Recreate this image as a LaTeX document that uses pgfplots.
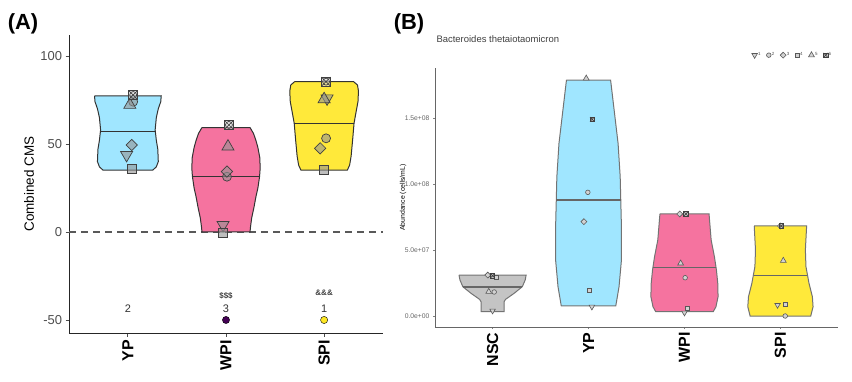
\documentclass[border=0pt]{standalone}
\usepackage{pgfplots}
\pgfplotsset{compat=1.18}
\usepackage{fontspec}
\setmainfont{Liberation Sans}
\definecolor{cyp}{HTML}{A0E6FF}
\definecolor{cwpi}{HTML}{F5739F}
\definecolor{cspi}{HTML}{FFE93A}
\definecolor{cnsc}{HTML}{C4C4C4}
\definecolor{vpurple}{HTML}{440154}
\definecolor{vyellow}{HTML}{FDE725}
\definecolor{tickgray}{HTML}{4D4D4D}
\newcommand{\fs}[1]{\fontsize{#1}{#1}\selectfont}
\pgfdeclareplotmark{sqx}{%
  \pgfpathrectangle{\pgfpoint{-\pgfplotmarksize}{-\pgfplotmarksize}}{\pgfpoint{2\pgfplotmarksize}{2\pgfplotmarksize}}%
  \pgfusepathqfillstroke
  \pgfpathmoveto{\pgfpoint{-\pgfplotmarksize}{-\pgfplotmarksize}}\pgfpathlineto{\pgfpoint{\pgfplotmarksize}{\pgfplotmarksize}}%
  \pgfpathmoveto{\pgfpoint{-\pgfplotmarksize}{\pgfplotmarksize}}\pgfpathlineto{\pgfpoint{\pgfplotmarksize}{-\pgfplotmarksize}}%
  \pgfusepathqstroke}
\pgfplotsset{
  ptA/.style={only marks, mark options={fill=gray!85, fill opacity=0.6, draw=black!75, line width=0.7bp, #1}},
  ptA/.default={},
  ptB/.style={only marks, mark options={fill=gray!35, draw=black!65, line width=0.6bp, #1},
    legend image code/.code={\draw[##1] plot coordinates {(2.5bp,0bp)};}},
  ptB/.default={},
}
\begin{document}
\begin{tikzpicture}
\useasboundingbox (0bp,0bp) rectangle (852bp,382bp);
% ---------------- Panel A ----------------
\begin{axis}[
  at={(69bp,49bp)}, anchor=south west, scale only axis, width=314bp, height=298bp,
  xmin=0.4, xmax=3.6, ymin=-57.4, ymax=111.9,
  axis lines=left, axis line style={-, line width=0.9bp, black!85},
  xtick={1,2,3}, xticklabels={YP,WPI,SPI},
  ytick={-50,0,50,100}, yticklabels={-50,0,50,100},
  tick align=outside, major tick length=3.5bp, tick style={line width=0.8bp, black!70},
  xticklabel style={rotate=90, anchor=east, font=\bfseries\fs{16}, black},
  yticklabel style={font=\fs{13}, text=tickgray},
  ylabel={Combined CMS}, ylabel style={at={(axis description cs:-0.127,0.5)}, anchor=center, font=\fs{13.5}},
  clip=false,
]
\addplot[forget plot, dashed, dash pattern=on 7bp off 5bp, black!65, line width=1.1bp] coordinates {(0.4,0) (3.6,0)};
% violins
\addplot[forget plot, fill=cyp, draw=black!80, line width=1bp] coordinates {
 (0.66,77.3) (0.665,74) (0.69,70) (0.71,65) (0.722,58) (0.71,52) (0.695,47) (0.69,40) (0.71,37) (0.745,35.2)
 (1.255,35.2) (1.29,37) (1.31,40) (1.305,47) (1.29,52) (1.278,58) (1.29,65) (1.31,70) (1.335,74) (1.34,77.3) (0.66,77.3)};
\addplot[forget plot, fill=cwpi, draw=black!80, line width=1bp] coordinates {
 (1.755,59.3) (1.72,56) (1.695,52) (1.675,48) (1.655,42) (1.652,36) (1.658,31.4) (1.675,25) (1.695,20) (1.715,14) (1.738,8) (1.75,3) (1.755,0)
 (2.245,0) (2.25,3) (2.262,8) (2.285,14) (2.305,20) (2.325,25) (2.342,31.4) (2.348,36) (2.345,42) (2.325,48) (2.305,52) (2.28,56) (2.245,59.3) (1.755,59.3)};
\addplot[forget plot, fill=cspi, draw=black!80, line width=1bp] coordinates {
 (2.70,85.4) (2.66,83.5) (2.65,80) (2.655,74) (2.675,68) (2.695,61.8) (2.71,52) (2.725,43) (2.74,38) (2.763,35.2)
 (3.237,35.2) (3.26,38) (3.275,43) (3.29,52) (3.305,61.8) (3.325,68) (3.345,74) (3.35,80) (3.34,83.5) (3.30,85.4) (2.70,85.4)};
% medians
\addplot[forget plot, black!80, line width=1bp] coordinates {(0.721,57) (1.279,57)};
\addplot[forget plot, black!80, line width=1bp] coordinates {(1.658,31.4) (2.342,31.4)};
\addplot[forget plot, black!80, line width=1bp] coordinates {(2.695,61.4) (3.305,61.4)};
% points
\addplot[ptA={rotate=180}, mark=triangle*, mark size=7bp] coordinates {(0.987,43.75) (1.97,4) (3.03,75.9)};
\addplot[ptA, mark=*, mark size=4.5bp] coordinates {(1.054,74) (2.01,31.4) (3.02,53.2)};
\addplot[ptA={rotate=45}, mark=square*, mark size=4bp] coordinates {(1.04,49.4) (2.01,34.3) (2.96,47.5)};
\addplot[ptA, mark=square*, mark size=4.5bp] coordinates {(1.04,35.6) (1.97,-0.4) (3.0,35.2)};
\addplot[ptA, mark=triangle*, mark size=7bp] coordinates {(1.02,72.2) (2.02,48.5) (3.0,75.4)};
\addplot[ptA={fill=gray!30}, mark=sqx, mark size=4.5bp] coordinates {(1.054,77.8) (2.03,60.8) (3.02,85.4)};
\addplot[ptA={fill=none}, mark=o, mark size=3.5bp] coordinates {(1.054,77.8) (2.03,60.8) (3.02,85.4)};
% annotations
\addplot[only marks, mark=none, nodes near coords, point meta=explicit symbolic,
  nodes near coords style={anchor=center, font=\fs{11}, text=black!80}] coordinates {(1,-43.75)[2] (2,-43.75)[3] (3,-43.75)[1]};
\addplot[only marks, mark=none, nodes near coords, point meta=explicit symbolic,
  nodes near coords style={anchor=center, font=\bfseries\fs{8}, text=black!75}] coordinates {(2,-36.5)[\$\$\$] (3,-34.7)[\&\&\&]};
\addplot[only marks, mark=*, mark size=3.6bp, draw=none, fill=vpurple] coordinates {(2,-50)};
\addplot[only marks, mark=*, mark size=3.6bp, draw=none, fill=vyellow] coordinates {(3,-50)};
\end{axis}
% ---------------- Panel B ----------------
\begin{axis}[
  at={(435bp,55bp)}, anchor=south west, scale only axis, width=403bp, height=259bp,
  xmin=0.4, xmax=4.6, ymin=-0.833e7, ymax=18.79e7,
  axis lines=left, axis line style={-, line width=0.8bp, black!60},
  xtick={1,2,3,4}, xticklabels={NSC,YP,WPI,SPI},
  ytick={0,5e7,1e8,1.5e8}, yticklabels={0.0e+00,5.0e+07,1.0e+08,1.5e+08}, scaled y ticks=false,
  tick align=outside, major tick length=2bp, tick style={black!50, line width=0.5bp},
  yticklabel style={font=\fs{6.8}, text=gray!80!black},
  xticklabel style={rotate=90, anchor=east, font=\bfseries\fs{16}, black},
  ylabel={Abundance (cells/mL)}, ylabel style={at={(axis description cs:-0.079,0.5)}, anchor=center, font=\fs{6.9}},
  legend columns=6,
  legend style={draw=none, fill=none, font=\fs{4.5}, text=tickgray, at={(0.993,1.05)}, anchor=east,
    nodes={inner sep=0.8bp}, /tikz/every even column/.append style={column sep=5bp}},
  clip=false,
]
\addplot[forget plot, fill=cnsc, draw=black!55, line width=1bp] coordinates {
 (0.65,3.1e7) (0.66,2.73e7) (0.69,2.22e7) (0.775,1.72e7) (0.865,1.26e7) (0.88,1.08e7) (0.88,0.33e7)
 (1.12,0.33e7) (1.12,1.08e7) (1.135,1.26e7) (1.225,1.72e7) (1.31,2.22e7) (1.34,2.73e7) (1.35,3.1e7) (0.65,3.1e7)};
\addplot[forget plot, fill=cyp, draw=black!55, line width=1bp] coordinates {
 (1.77,17.88e7) (1.733,15.6e7) (1.692,13.08e7) (1.67,10.55e7) (1.664,8.79e7) (1.657,6.77e7) (1.657,4.24e7) (1.682,2.22e7) (1.716,0.76e7)
 (2.284,0.76e7) (2.318,2.22e7) (2.343,4.24e7) (2.343,6.77e7) (2.336,8.79e7) (2.33,10.55e7) (2.308,13.08e7) (2.267,15.6e7) (2.23,17.88e7) (1.77,17.88e7)};
\addplot[forget plot, fill=cwpi, draw=black!55, line width=1bp] coordinates {
 (2.744,7.73e7) (2.722,5.76e7) (2.688,4.49e7) (2.667,3.48e7) (2.653,2.47e7) (2.65,1.46e7) (2.672,0.70e7) (2.70,0.33e7)
 (3.30,0.33e7) (3.328,0.70e7) (3.35,1.46e7) (3.347,2.47e7) (3.333,3.48e7) (3.312,4.49e7) (3.278,5.76e7) (3.256,7.73e7) (2.744,7.73e7)};
\addplot[forget plot, fill=cspi, draw=black!55, line width=1bp] coordinates {
 (3.727,6.82e7) (3.74,5.0e7) (3.734,3.74e7) (3.702,2.47e7) (3.667,1.46e7) (3.66,0.70e7) (3.684,0)
 (4.316,0) (4.34,0.70e7) (4.333,1.46e7) (4.298,2.47e7) (4.266,3.74e7) (4.26,5.0e7) (4.273,6.82e7) (3.727,6.82e7)};
\addplot[forget plot, black!60, line width=1.1bp] coordinates {(0.69,2.2e7) (1.31,2.2e7)};
\addplot[forget plot, black!60, line width=1.1bp] coordinates {(1.664,8.79e7) (2.336,8.79e7)};
\addplot[forget plot, black!60, line width=1.1bp] coordinates {(2.67,3.66e7) (3.33,3.66e7)};
\addplot[forget plot, black!60, line width=1.1bp] coordinates {(3.72,3.05e7) (4.28,3.05e7)};
% points
\addplot[ptB={rotate=180}, mark=triangle*, mark size=3.2bp] coordinates {(1.0,0.40e7) (2.035,0.70e7) (3.0,0.25e7) (3.97,0.83e7)};
\addlegendentry{1}
\addplot[ptB, mark=*, mark size=2.3bp] coordinates {(1.017,1.82e7) (1.993,9.37e7) (3.007,2.9e7) (4.05,0.0)};
\addlegendentry{2}
\addplot[ptB={rotate=45}, mark=square*, mark size=2.1bp] coordinates {(0.95,3.1e7) (1.952,7.15e7) (2.95,7.73e7) (4.0,6.82e7)};
\addlegendentry{3}
\addplot[ptB, mark=square*, mark size=2.1bp] coordinates {(1.035,2.93e7) (2.01,1.97e7) (3.03,0.58e7) (4.05,0.91e7)};
\addlegendentry{4}
\addplot[ptB, mark=triangle*, mark size=3.4bp] coordinates {(0.96,1.84e7) (1.976,18.0e7) (2.96,3.99e7) (4.03,4.19e7)};
\addlegendentry{5}
\addplot[ptB={fill=gray!45, draw=black!75}, mark=sqx, mark size=2.2bp] coordinates {(1.0,3.05e7) (2.038,14.9e7) (3.015,7.73e7) (4.01,6.82e7)};
\addlegendentry{6}
\end{axis}
\node[font=\bfseries\fs{22}] at (23bp,358bp) {(A)};
\node[font=\bfseries\fs{22}] at (409bp,358bp) {(B)};
\node[anchor=west, font=\fs{9.5}, text=black!75] at (433bp,343bp) {Bacteroides thetaiotaomicron};
\end{tikzpicture}
\end{document}
